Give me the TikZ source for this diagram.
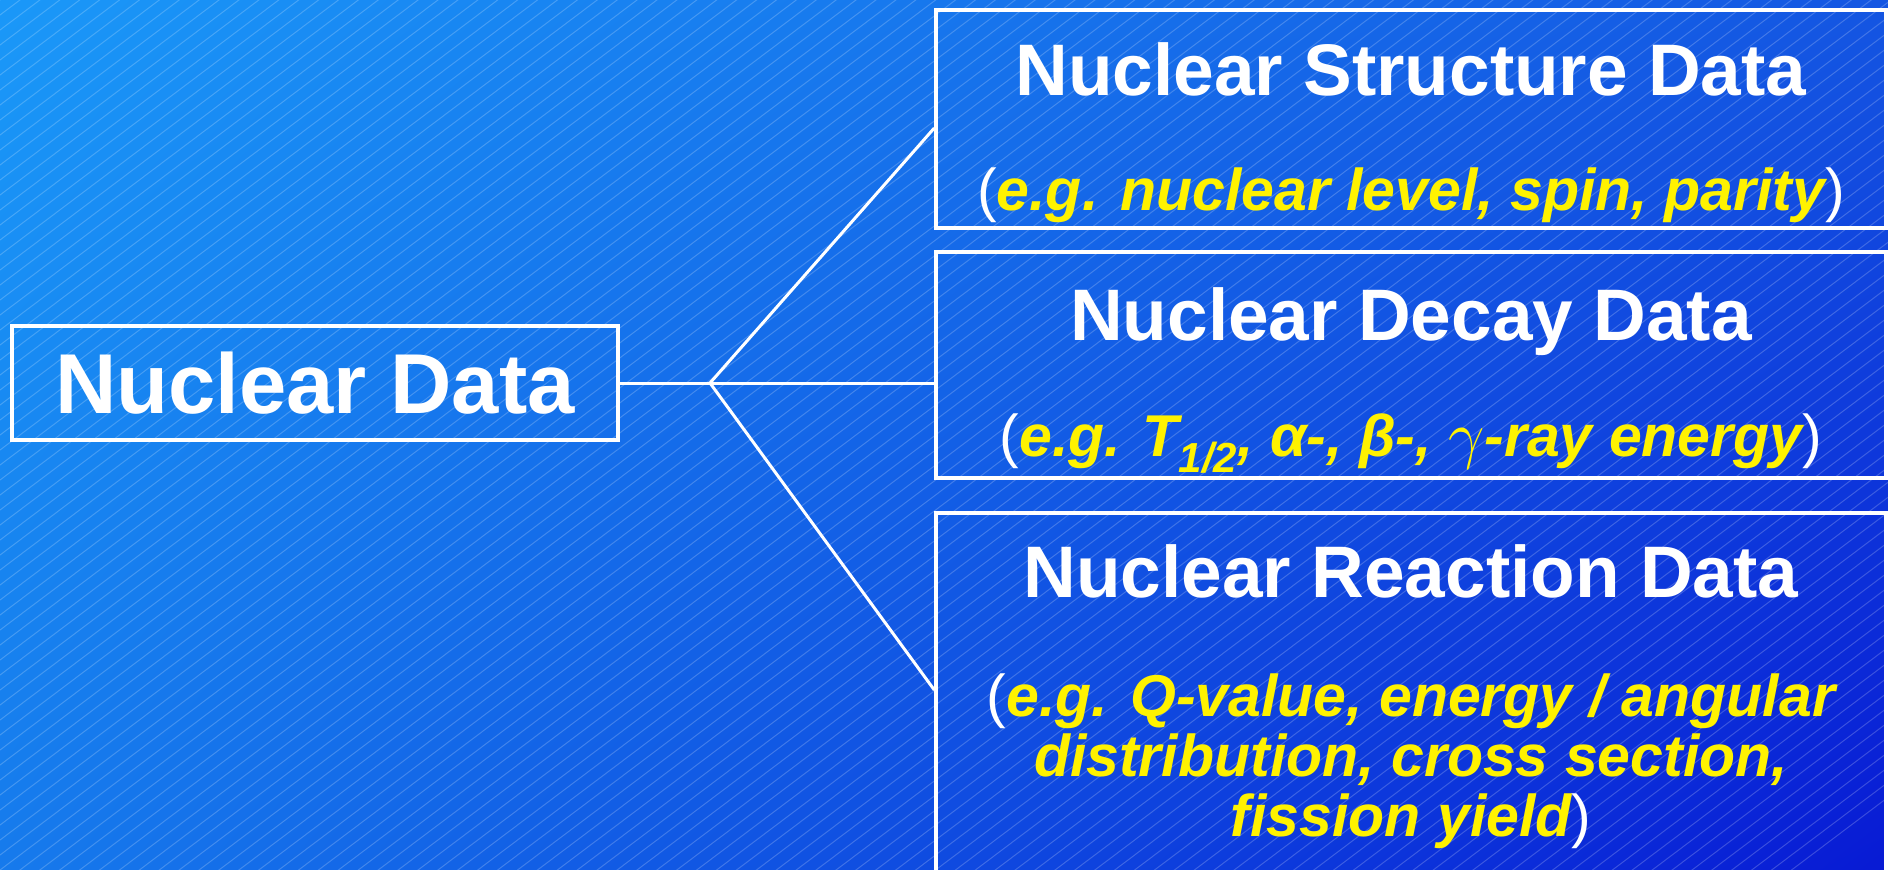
\documentclass[tikz,border=0pt]{standalone}
\usepackage{fontspec}
\setmainfont{Liberation Sans}
\usetikzlibrary{positioning}
\usetikzlibrary{shadings}
\definecolor{ndyellow}{RGB}{255,242,0}
\definecolor{bgul}{RGB}{26,152,248}
\definecolor{bgur}{RGB}{20,86,226}
\definecolor{bgll}{RGB}{22,122,236}
\definecolor{bglr}{RGB}{8,26,212}
\newcommand{\ndparen}[1]{\textcolor{white}{\upshape\mdseries #1}}
\newcommand{\ndsub}[1]{\raisebox{-8pt}{\fontsize{21pt}{21pt}\selectfont #1}}

\begin{document}
\begin{tikzpicture}[x=0.5pt,y=0.5pt,yscale=-1,xscale=1,
  databox/.style={draw=white,line width=1.7pt,inner sep=0pt},
  head/.style={text=white,font=\fontsize{36.5pt}{38pt}\selectfont\bfseries,anchor=base,inner sep=0pt},
  note/.style={text=ndyellow,font=\fontsize{29.5pt}{30pt}\selectfont\bfseries\itshape,anchor=base,inner sep=0pt,align=center},
  link/.style={draw=white,line width=1.5pt},
  hatch/.style={draw=white,draw opacity=0.2,line width=0.5pt}]
\useasboundingbox (0,0) rectangle (1888,869);
\clip (0,0) rectangle (1888,869);

%Background
\shade[upper left=bgul,upper right=bgur,lower left=bgll,lower right=bglr] (0,0) rectangle (1888,869);
\foreach \k in {0,15,...,2220}
  \draw[hatch] (0,\k) -- ++(-37:3000);

%Boxes
\node[databox,minimum width=303pt,minimum height=57pt,text=white,font=\fontsize{42.5pt}{44pt}\selectfont\bfseries] (nd) at (315,383) {Nuclear Data};
\node[databox,minimum width=475pt,minimum height=109pt] (struct) at (1411,119) {};
\node[databox,minimum width=475pt,minimum height=113pt] (decay) at (1411,365) {};
\node[databox,minimum width=475pt,minimum height=185pt] (react) at (1411,698) {};

%Connectors
\coordinate (jn) at (710,383);
\draw[link] (nd.east) -- (jn);
\draw[link] (jn) -- ([yshift=4.5pt]struct.west);
\draw[link] (jn) -- (decay.west |- jn);
\draw[link] (jn) -- ([yshift=-4pt]react.west);

% Text Node
\node[head] (structhead) at (1411,95) {Nuclear Structure Data};
% Text Node
\node[note] (structnote) at (1411,210) {\ndparen{(}e.g. nuclear level, spin, parity\ndparen{)}};
% Text Node
\node[head] (decayhead) at (1411,340) {Nuclear Decay Data};
% Text Node
\node[note] (decaynote) at (1411,456) {\ndparen{(}e.g. T\ndsub{1/2}, α-, β-, \scalebox{1.3}{$\gamma$}-ray energy\ndparen{)}};
% Text Node
\node[head] (reacthead) at (1411,597) {Nuclear Reaction Data};
% Text Node
\node[note] (reactnote) at (1411,836) {\ndparen{(}e.g. Q-value, energy / angular\\distribution, cross section,\\fission yield\ndparen{)}};

\end{tikzpicture}
\end{document}
